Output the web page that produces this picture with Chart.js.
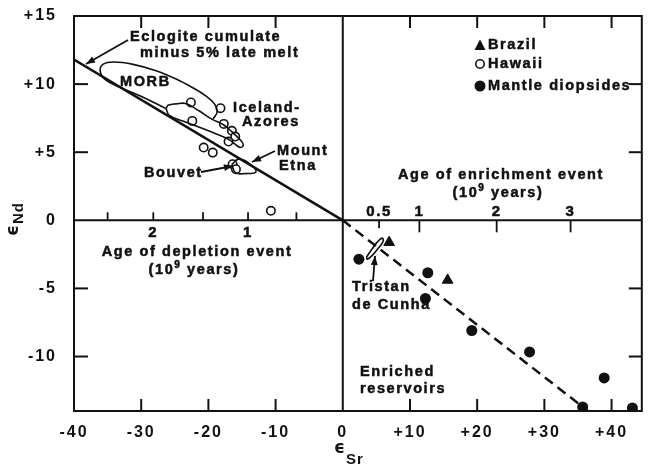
<!DOCTYPE html>
<html>
<head>
<meta charset="utf-8">
<script src="https://cdn.jsdelivr.net/npm/chart.js@4.4.1/dist/chart.umd.min.js"></script>
<style>
  html, body { margin: 0; padding: 0; background: #fff; }
  canvas { display: block; }
</style>
</head>
<body>
<canvas id="chart" width="649" height="468"></canvas>
<script>
// axis ticks
const xTicks = [-40, -30, -20, -10, 0, 10, 20, 30, 40];
const yTicks = [-10, -5, 0, 5, 10, 15];

// age scales drawn on the zero line (position in eSr units)
const depletionAges = [2.5, 2, 1.5, 1, 0.5];
const depletionAgeX = [-35, -28.2, -20.8, -14.1, -6.9];
const depletionLabels = ['', '2', '', '1', ''];
const enrichmentAges = [0.5, 1, 2, 3];
const enrichmentAgeX = [5.4, 11.4, 22.9, 33.9];
const enrichmentLabels = ['0.5', '1', '2', '3'];

// samples
const hawaiiX = [-22.6, -18.2, -22.4, -17.7, -16.5, -16.0, -17.0, -20.7, -19.35, -16.4, -15.9, -10.7];
const hawaiiY = [8.65, 8.23, 7.3, 7.08, 6.57, 6.15, 5.78, 5.34, 4.97, 4.12, 3.75, 0.7];
const brazilX = [6.9, 15.6];
const brazilY = [-1.62, -4.39];
const mantleX = [2.4, 12.65, 12.3, 19.2, 27.8, 38.9, 35.7, 43.1];
const mantleY = [-2.85, -3.85, -5.74, -8.09, -9.66, -11.57, -13.7, -13.78];

// mantle array lines
const depletedLine = [[-40, 11.8], [0, 0]];
const enrichedLine = [[0, 0], [36.5, -14]];

// field outlines
const morbField = [[-19.3, 7.45], [-18.7, 7.95], [-19.1, 8.55], [-20.4, 9.14], [-22.4, 9.75], [-24.8, 10.37],
  [-27.8, 10.98], [-31.2, 11.45], [-34.1, 11.62], [-35.7, 11.45], [-36.1, 10.95], [-35.4, 10.35],
  [-33.1, 9.75], [-30.2, 9.14], [-27.8, 8.57], [-26.3, 8.2]];
const icelandField = [[-26.3, 8.2], [-25.8, 7.7], [-23.6, 7.25], [-19.9, 6.55], [-17.0, 5.95], [-15.3, 5.35],
  [-14.8, 5.55], [-15.4, 5.98], [-16.5, 6.49], [-17.7, 7.0], [-19.5, 7.43], [-21.4, 8.04], [-23.4, 8.57],
  [-24.8, 8.55], [-26.0, 8.45]];
const etnaField = [[-16.5, 4.12], [-15.5, 4.49], [-14.1, 4.24], [-12.9, 3.57], [-14.6, 3.43], [-16.0, 3.5]];
const tristanField = [[3.52, -2.7], [4.25, -2.18], [5.13, -1.6], [5.87, -1.31], [6.01, -1.54],
  [5.28, -2.05], [4.4, -2.57], [3.67, -2.85]];

const ink = '#111';
const fam = '"Liberation Sans", Arial, sans-serif';

const pts = (xs, ys) => xs.map((x, i) => ({x: x, y: ys[i]}));
const path = p => p.map(q => ({x: q[0], y: q[1]}));
const closed = p => path(p.concat([p[0]]));

function outline(p, isClosed) {
  return {
    data: isClosed ? closed(p) : path(p), showLine: true, tension: 0.4, fill: false,
    borderColor: ink, borderWidth: 1.6, pointRadius: 0
  };
}

function line(ctx, x1, y1, x2, y2) {
  ctx.beginPath(); ctx.moveTo(x1, y1); ctx.lineTo(x2, y2); ctx.stroke();
}

function arrow(ctx, x1, y1, x2, y2) {
  line(ctx, x1, y1, x2, y2);
  const a = Math.atan2(y2 - y1, x2 - x1);
  ctx.beginPath();
  ctx.moveTo(x2, y2);
  ctx.lineTo(x2 - 9 * Math.cos(a) + 3.5 * Math.sin(a), y2 - 9 * Math.sin(a) - 3.5 * Math.cos(a));
  ctx.lineTo(x2 - 9 * Math.cos(a) - 3.5 * Math.sin(a), y2 - 9 * Math.sin(a) + 3.5 * Math.cos(a));
  ctx.closePath(); ctx.fill();
}

// bold lettering, a touch heavier like the printed figure
function text(ctx, s, x, y, size, align) {
  ctx.font = 'bold ' + (size || 14.5) + 'px ' + fam;
  ctx.textAlign = align || 'left';
  ctx.textBaseline = 'middle';
  ctx.lineWidth = 0.5;
  ctx.fillText(s, x, y);
  ctx.strokeText(s, x, y);
}

// "(10^9 years)" centred on cx
function powText(ctx, cx, cy) {
  ctx.font = 'bold 14.5px ' + fam;
  const w1 = ctx.measureText('(10').width, w3 = ctx.measureText(' years)').width;
  ctx.font = 'bold 10px ' + fam;
  const w2 = ctx.measureText('9').width;
  const x = cx - (w1 + w2 + w3) / 2;
  text(ctx, '(10', x, cy);
  text(ctx, '9', x + w1, cy - 5, 10);
  text(ctx, ' years)', x + w1 + w2, cy);
}

const frame = {
  id: 'frame',
  beforeDraw(chart) {
    chart.ctx.letterSpacing = '2px';
  },
  beforeDatasetsDraw(chart) {
    const {ctx, chartArea: a, scales: {x, y}} = chart;
    ctx.save();
    ctx.strokeStyle = ink;
    ctx.lineWidth = 2;
    ctx.strokeRect(a.left, a.top, a.right - a.left, a.bottom - a.top);
    const x0 = x.getPixelForValue(0), y0 = y.getPixelForValue(0);
    line(ctx, a.left, y0, a.right, y0);
    line(ctx, x0, a.top, x0, a.bottom);
    xTicks.filter(v => v !== 0 && v !== -40).forEach(v => {
      const px = x.getPixelForValue(v);
      line(ctx, px, a.top, px, a.top + 12);
      line(ctx, px, a.bottom, px, a.bottom - 12);
    });
    yTicks.filter(v => v !== 0 && v !== 15).forEach(v => {
      const py = y.getPixelForValue(v);
      line(ctx, a.left, py, a.left + 14, py);
      line(ctx, a.right, py, a.right - 13, py);
    });
    ctx.lineWidth = 1.8;
    depletionAgeX.forEach(v => {
      const px = x.getPixelForValue(v);
      line(ctx, px, y0, px, y0 - 8);
    });
    enrichmentAgeX.forEach((v, i) => {
      const px = x.getPixelForValue(v);
      line(ctx, px, y0, px, y0 + (i === 0 ? 8 : 12));
    });
    ctx.restore();
  },
  afterDatasetsDraw(chart) {
    const {ctx, scales: {x, y}} = chart;
    const y0 = y.getPixelForValue(0);
    ctx.save();
    ctx.fillStyle = ink;
    ctx.strokeStyle = ink;
    ctx.letterSpacing = '1.6px';

    // age scale labels
    depletionLabels.forEach((s, i) => { if (s) text(ctx, s, x.getPixelForValue(depletionAgeX[i]), y0 + 13, 15, 'center'); });
    enrichmentLabels.forEach((s, i) => text(ctx, s, x.getPixelForValue(enrichmentAgeX[i]), y0 - 8, 15, 'center'));
    text(ctx, 'Age of depletion event', 197, 252, 14.5, 'center');
    powText(ctx, 194, 270);
    text(ctx, 'Age of enrichment event', 501, 175, 14.5, 'center');
    powText(ctx, 498, 193);

    // field labels
    text(ctx, 'Eclogite cumulate', 130, 37);
    text(ctx, 'minus 5% late melt', 140, 53);
    text(ctx, 'MORB', 120, 82);
    text(ctx, 'Iceland-', 233, 108);
    text(ctx, 'Azores', 242, 122);
    text(ctx, 'Mount', 277, 151);
    text(ctx, 'Etna', 279, 166);
    text(ctx, 'Bouvet', 144, 173);
    text(ctx, 'Tristan', 352, 287);
    text(ctx, 'de Cunha', 352, 305);
    text(ctx, 'Enriched', 360, 372);
    text(ctx, 'reservoirs', 360, 389);

    ctx.lineWidth = 1.8;
    arrow(ctx, 128, 40, 86, 64);
    arrow(ctx, 275, 151, 252, 162);
    arrow(ctx, 201, 172, 233, 166);
    arrow(ctx, 373, 281, 375, 256);

    // legend
    ctx.beginPath();
    ctx.moveTo(480, 39.5); ctx.lineTo(485.5, 50); ctx.lineTo(474.5, 50); ctx.closePath(); ctx.fill();
    ctx.lineWidth = 1.6;
    ctx.beginPath(); ctx.arc(480, 64, 4.2, 0, Math.PI * 2); ctx.stroke();
    ctx.beginPath(); ctx.arc(480, 86, 5.5, 0, Math.PI * 2); ctx.fill();
    text(ctx, 'Brazil', 488, 45);
    text(ctx, 'Hawaii', 488, 64);
    text(ctx, 'Mantle diopsides', 488, 86);

    // axis titles
    ctx.letterSpacing = '1px';
    ctx.textAlign = 'left';
    ctx.textBaseline = 'alphabetic';
    ctx.font = 'bold 17px "DejaVu Sans", sans-serif';
    ctx.fillText('\u03F5', 334, 453);
    ctx.font = 'bold 15px ' + fam;
    ctx.fillText('Sr', 346, 464);
    ctx.translate(18, 236);
    ctx.rotate(-Math.PI / 2);
    ctx.font = 'bold 17px "DejaVu Sans", sans-serif';
    ctx.fillText('\u03F5', 0, 0);
    ctx.font = 'bold 15px ' + fam;
    ctx.fillText('Nd', 12, 5);
    ctx.restore();
  }
};

const tickFont = {size: 16, weight: 'bold', family: fam};
const signed = v => (v > 0 ? '+' + v : String(v));
const noOverflow = s => { s.paddingTop = 0; s.paddingBottom = 0; s.paddingLeft = 0; s.paddingRight = 0; };

new Chart(document.getElementById('chart').getContext('2d'), {
  type: 'scatter',
  data: {
    datasets: [
      {data: path(depletedLine), showLine: true, borderColor: ink, borderWidth: 2.5, pointRadius: 0},
      {data: path(enrichedLine), showLine: true, borderColor: ink, borderWidth: 2.5, borderDash: [10, 6], pointRadius: 0},
      outline(morbField, false),
      outline(icelandField, true),
      outline(etnaField, true),
      outline(tristanField, true),
      {label: 'Hawaii', data: pts(hawaiiX, hawaiiY), pointStyle: 'circle', pointRadius: 4.2,
        pointBackgroundColor: '#fff', pointBorderColor: ink, pointBorderWidth: 1.6},
      {label: 'Brazil', data: pts(brazilX, brazilY), pointStyle: 'triangle', pointRadius: 6.2,
        pointBackgroundColor: ink, pointBorderColor: ink, pointBorderWidth: 1},
      {label: 'Mantle diopsides', data: pts(mantleX, mantleY), pointStyle: 'circle', pointRadius: 5.5,
        pointBackgroundColor: ink, pointBorderColor: ink, pointBorderWidth: 0}
    ]
  },
  options: {
    responsive: false,
    animation: false,
    layout: {padding: {top: 16, right: 3, left: 0, bottom: 0}},
    plugins: {legend: {display: false}, tooltip: {enabled: false}},
    scales: {
      x: {
        type: 'linear', min: -40, max: 44.5,
        grid: {display: false, drawTicks: false}, border: {display: false},
        ticks: {font: tickFont, color: ink, padding: 12, maxRotation: 0, callback: signed},
        afterBuildTicks: s => { s.ticks = xTicks.map(v => ({value: v})); },
        afterFit: s => { s.height = 57; noOverflow(s); }
      },
      y: {
        type: 'linear', min: -14, max: 15,
        grid: {display: false, drawTicks: false}, border: {display: false},
        ticks: {font: tickFont, color: ink, padding: 17, callback: signed},
        afterBuildTicks: s => { s.ticks = yTicks.map(v => ({value: v})); },
        afterFit: s => { s.width = 74; noOverflow(s); }
      }
    }
  },
  plugins: [frame]
});
</script>
</body>
</html>
